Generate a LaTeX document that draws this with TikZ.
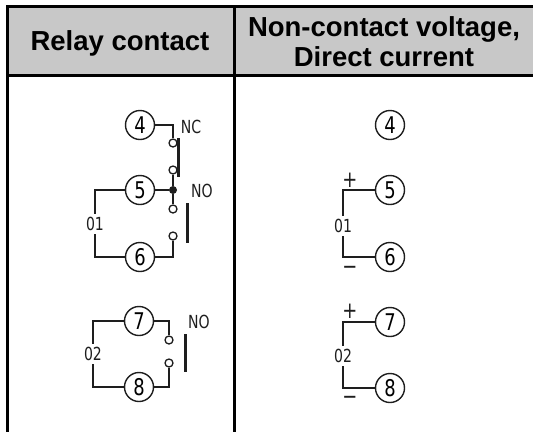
\documentclass[tikz,border=0pt]{standalone}
\usepackage{fontspec}
\usepackage{tikz}
\usepackage{xcolor}
\usetikzlibrary{positioning}
\setmainfont{Liberation Sans}
\newfontfamily\dinfont[FakeStretch=0.78]{DejaVu Sans}
\definecolor{headgray}{RGB}{200, 200, 200}
\definecolor{ink}{RGB}{30, 30, 30}
\tikzstyle{head} = [
    align=center,
    font=\fontsize{27.5}{30}\selectfont\bfseries
]
\tikzstyle{pin} = [
    circle,
    draw=ink,
    line width=1.4pt,
    minimum size=29pt,
    inner sep=0pt,
    font=\dinfont\fontsize{23}{23}\selectfont
]
\tikzstyle{contact} = [
    circle,
    draw=ink,
    line width=1.3pt,
    minimum size=8pt,
    inner sep=0pt
]
\tikzstyle{joint} = [
    circle,
    fill=ink,
    minimum size=8pt,
    inner sep=0pt
]
\tikzstyle{tag} = [
    inner sep=3pt,
    text=ink,
    font=\dinfont\fontsize{18}{18}\selectfont
]
\tikzstyle{sign} = [
    inner sep=0pt,
    text=ink,
    font=\dinfont\fontsize{23}{23}\selectfont
]
\tikzstyle{wire} = [
    line width=1.4pt,
    draw=ink
]
\tikzstyle{bar} = [
    line width=3pt,
    draw=ink
]

\begin{document}
\begin{tikzpicture}[x=1pt, y=-1pt]
    \useasboundingbox (0,0) rectangle (533,432);
    % table
    \fill[headgray] (7.5,6) rectangle (533,75.5);
    \draw[line width=3pt] (533,6) -- (7.5,6) -- (7.5,432);
    \draw[line width=3pt] (7.5,75.5) -- (533,75.5);
    \draw[line width=3pt] (234.5,6) -- (234.5,432);
    \node[head] (relay) at (120,43) {Relay contact};
    \node[head] (dc) at (384,42) {Non-contact voltage,\\Direct current};

    % relay contact, 01
    \node[pin] (p4) at (140,125) {4};
    \node[pin] (p5) at (140,190) {5};
    \node[pin] (p6) at (140,257) {6};
    \node[contact] (c1) at (173,143) {};
    \node[contact] (c2) at (173,170) {};
    \node[joint] (j5) at (173,190) {};
    \node[contact] (c3) at (173,209) {};
    \node[contact] (c4) at (173,236) {};
    \node[tag] (nc) at (191,127) {NC};
    \node[tag] (no1) at (202,191) {NO};
    \node[tag] (t01) at (95,224) {01};
    \draw[wire] (p4.east) -| (c1.north);
    \draw[wire] (c2.south) -- (j5) -- (c3.north);
    \draw[wire] (p5.east) -- (j5);
    \draw[wire] (c4.south) |- (p6.east);
    \draw[wire] (p5.west) -| (t01.north);
    \draw[wire] (t01.south) |- (p6.west);
    \draw[bar] ([xshift=5.5pt]c1.north) -- ([xshift=5.5pt,yshift=-2pt]c2.south);
    \draw[bar] ([xshift=14pt,yshift=1pt]c3.north) -- ([xshift=14pt,yshift=-2pt]c4.south);

    % relay contact, 02
    \node[pin] (p7) at (139,321) {7};
    \node[pin] (p8) at (139,387) {8};
    \node[contact] (c5) at (169,340) {};
    \node[contact] (c6) at (169,363) {};
    \node[tag] (no2) at (199,322) {NO};
    \node[tag] (t02) at (93,354) {02};
    \draw[wire] (p7.east) -| (c5.north);
    \draw[wire] (c6.south) |- (p8.east);
    \draw[wire] (p7.west) -| (t02.north);
    \draw[wire] (t02.south) |- (p8.west);
    \draw[bar] ([xshift=16pt,yshift=1pt]c5.north) -- ([xshift=16pt,yshift=-4pt]c6.south);

    % non-contact voltage, direct current
    \node[pin] (q4) at (390,125) {4};
    \node[pin] (q5) at (390,190) {5};
    \node[pin] (q6) at (390,257) {6};
    \node[pin] (q7) at (390,322) {7};
    \node[pin] (q8) at (390,388) {8};
    \node[tag] (s01) at (343,226) {01};
    \node[tag] (s02) at (343,356) {02};
    \node[sign] (plus1) at (350,180) {+};
    \node[sign] (minus1) at (350,270) {\char"2212};
    \node[sign] (plus2) at (350,311) {+};
    \node[sign] (minus2) at (350,400) {\char"2212};
    \draw[wire] (q5.west) -| (s01.north);
    \draw[wire] (s01.south) |- (q6.west);
    \draw[wire] (q7.west) -| (s02.north);
    \draw[wire] (s02.south) |- (q8.west);
\end{tikzpicture}
\end{document}
